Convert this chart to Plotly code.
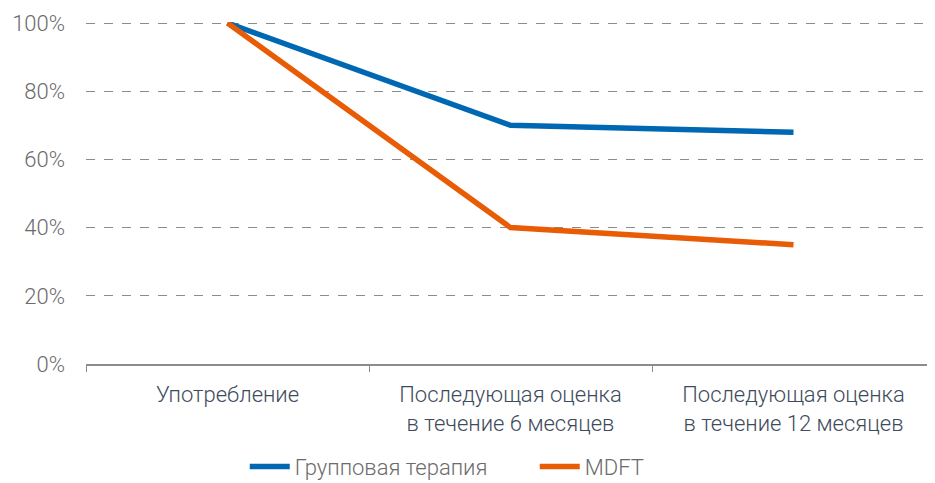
import plotly.graph_objects as go

categories = ["Употребление", "Последующая оценка<br>в течение 6 месяцев", "Последующая оценка<br>в течение 12 месяцев"]
group_therapy = [1.00, 0.70, 0.68]
mdft = [1.00, 0.40, 0.35]
series_names = ["Групповая терапия", "MDFT"]
y_ticks = [0, 0.2, 0.4, 0.6, 0.8, 1.0]
y_tick_labels = ["0%", "20%", "40%", "60%", "80%", "100%"]

fig = go.Figure()
fig.add_trace(go.Scatter(x=categories, y=group_therapy, mode="lines", name=series_names[0],
                         line=dict(color="#0068b3", width=5.5)))
fig.add_trace(go.Scatter(x=categories, y=mdft, mode="lines", name=series_names[1],
                         line=dict(color="#e85c06", width=5.5)))

fig.update_layout(
    width=927, height=475,
    margin=dict(l=78, r=0, t=14, b=119, autoexpand=False),
    plot_bgcolor="white", paper_bgcolor="white",
    font=dict(family="Roboto", size=22, color="#6b6b6b", weight=300),
    showlegend=True,
    legend=dict(orientation="h", x=0.187, xanchor="left", y=-0.30, yanchor="middle",
                entrywidth=235, entrywidthmode="pixels",
                font=dict(size=22, color="#6b6b6b", weight=300), itemwidth=40),
    xaxis=dict(type="category", range=[-0.5, 2.5], tickson="boundaries",
               showline=True, linecolor="#8c8c8c", linewidth=2,
               ticks="outside", ticklen=6, tickcolor="#8c8c8c", tickwidth=1,
               showgrid=False, automargin=False, ticklabelstandoff=10,
               tickfont=dict(size=22, color="#3e4b5b", weight=300)),
    yaxis=dict(range=[0, 1.003], tickvals=y_ticks, ticktext=y_tick_labels,
               showgrid=True, gridcolor="#8c8c8c", griddash="dash", gridwidth=1,
               zeroline=False, showline=False, ticks="", ticklabelstandoff=20,
               automargin=False,
               tickfont=dict(size=22, color="#6b6b6b", weight=300)),
)
fig.write_html("out.html")
